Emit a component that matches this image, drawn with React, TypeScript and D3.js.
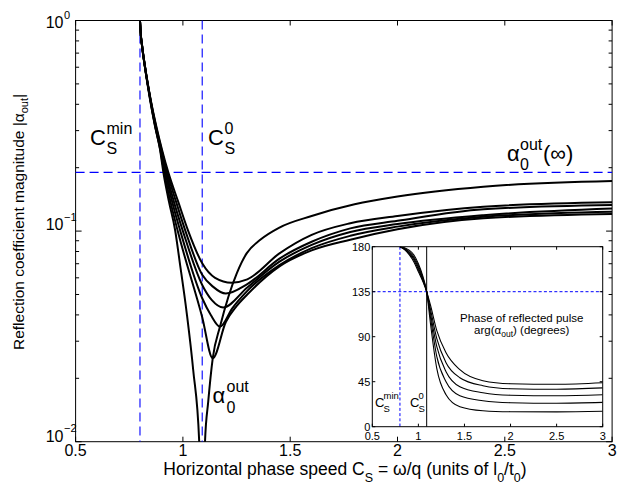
import React from "react";
import * as d3 from "d3";

// ---------- data ----------
const X_TICKS = [0.5, 1, 1.5, 2, 2.5, 3];
const X_TICK_LABELS = ["0.5", "1", "1.5", "2", "2.5", "3"];
const Y_TICKS = [1, 0.1, 0.01];
const Y_TICK_EXPONENTS = ["0", "\u22121", "\u22122"];
const INSET_Y_TICKS = [0, 45, 90, 135, 180];
const INSET_Y_TICK_LABELS = ["0", "45", "90", "135", "180"];

const CS_MIN = 0.8;
const CS_0 = 1.09;
const ALPHA_INF = 0.19;
const PHASE_REF = 135;

// |alpha_0^out| (zero-limit curve)
const alpha0: [number, number][] = [
  [0.8, 1.0], [0.803, 0.88], [0.81, 0.75], [0.823, 0.6], [0.847, 0.42], [0.87, 0.315],
  [0.893, 0.245], [0.909, 0.19], [0.935, 0.138], [0.964, 0.1007], [0.986, 0.0703],
  [1.018, 0.0407], [1.048, 0.0219], [1.076, 0.01], [1.09, 0.003], [1.103, 0.01],
  [1.118, 0.0155], [1.139, 0.0249], [1.173, 0.0352], [1.212, 0.0488], [1.251, 0.063],
  [1.297, 0.0784], [1.359, 0.0907], [1.45, 0.104], [1.6, 0.118], [1.8, 0.134],
  [2.0, 0.146], [2.4, 0.1625], [3.0, 0.173],
];
const curve1: [number, number][] = [
  [0.8, 1.0], [0.803, 0.88], [0.81, 0.76], [0.824, 0.6], [0.85, 0.42], [0.876, 0.315],
  [0.902, 0.245], [0.932, 0.19], [0.978, 0.138], [1.025, 0.1], [1.09, 0.0703],
  [1.15, 0.06], [1.227, 0.0569], [1.3, 0.059], [1.45, 0.0784], [1.6, 0.096],
  [1.78, 0.109], [2.0, 0.118], [2.4, 0.1306], [3.0, 0.137],
];
const curve2: [number, number][] = [
  [0.8, 1.0], [0.803, 0.88], [0.81, 0.758], [0.8238, 0.6], [0.8495, 0.42], [0.8745, 0.315],
  [0.9, 0.245], [0.927, 0.19], [0.968, 0.138], [1.012, 0.1], [1.09, 0.062],
  [1.14, 0.0545], [1.2, 0.0505], [1.3, 0.056], [1.45, 0.074], [1.6, 0.089],
  [1.78, 0.103], [2.0, 0.112], [2.4, 0.127], [3.0, 0.133],
];
const curve3: [number, number][] = [
  [0.8, 1.0], [0.803, 0.88], [0.81, 0.756], [0.8236, 0.6], [0.849, 0.42], [0.873, 0.315],
  [0.898, 0.245], [0.922, 0.19], [0.958, 0.138], [1.0, 0.1], [1.09, 0.0555],
  [1.135, 0.047], [1.188, 0.0434], [1.3, 0.054], [1.45, 0.0716], [1.6, 0.086],
  [1.78, 0.099], [2.0, 0.108], [2.4, 0.119], [3.0, 0.128],
];
const curve4: [number, number][] = [
  [0.8, 1.0], [0.803, 0.88], [0.81, 0.754], [0.8234, 0.6], [0.8485, 0.42], [0.8715, 0.315],
  [0.896, 0.245], [0.918, 0.19], [0.95, 0.138], [0.988, 0.1], [1.09, 0.048],
  [1.13, 0.04], [1.173, 0.0352], [1.23, 0.043], [1.3, 0.052], [1.45, 0.0689],
  [1.6, 0.083], [1.78, 0.095], [2.0, 0.105], [2.4, 0.117], [3.0, 0.1236],
];
const curve5: [number, number][] = [
  [0.8, 1.0], [0.803, 0.88], [0.81, 0.752], [0.8232, 0.6], [0.848, 0.42], [0.8705, 0.315],
  [0.894, 0.245], [0.913, 0.19], [0.942, 0.138], [0.976, 0.1], [1.09, 0.039],
  [1.139, 0.0249], [1.2, 0.037], [1.25, 0.044], [1.3, 0.05], [1.45, 0.068],
  [1.6, 0.081], [1.78, 0.091], [2.0, 0.102], [2.4, 0.115], [3.0, 0.1206],
];
const MAIN_CURVES = [alpha0, curve1, curve2, curve3, curve4, curve5];

// inset: phase (degrees)
const PHASE_X = [0.8, 0.85, 0.9, 0.95, 1.0, 1.05, 1.09, 1.13, 1.2, 1.3, 1.45, 1.7, 2.0, 2.5, 3.0];
const phase1 = [180, 177, 172, 165, 155, 145, 135, 122, 96, 74, 57, 46, 43, 42.5, 44];
const phase2 = [180, 177.5, 173, 167, 157, 146, 135, 118, 88, 64, 49, 41, 38, 37.5, 38.8];
const phase3 = [180, 178, 174, 168.5, 159, 147, 135, 114, 80, 55, 40, 34, 31.5, 31, 32];
const phase4 = [180, 178.5, 175, 170, 161, 148.5, 135, 110, 70, 45, 31, 26, 24, 23.5, 24.3];
const phase5 = [180, 179, 176.5, 172, 163, 150, 135, 104, 58, 32, 20, 16, 15, 14.8, 15.4];
const PHASES = [phase1, phase2, phase3, phase4, phase5];

// ---------- layout ----------
const W = 618, H = 487;
const M = { l: 75.6, t: 20.5, r: 612.1, b: 441.7 };
const I = { l: 372.3, t: 246.7, r: 602.7, b: 426.7 };
const FONT = "'Liberation Sans', Arial, Helvetica, sans-serif";
const BLUE = "#0000ff";

export default function App() {
  const mx = d3.scaleLinear().domain([0.5, 3]).range([M.l, M.r]);
  const my = d3.scaleLog().domain([0.01, 1]).range([M.b, M.t]);
  const ix = d3.scaleLinear().domain([0.5, 3]).range([I.l, I.r]);
  const iy = d3.scaleLinear().domain([0, 180]).range([I.b, I.t]);

  const mainLine = d3
    .line<[number, number]>()
    .x((d) => mx(d[0]))
    .y((d) => my(d[1]))
    .curve(d3.curveMonotoneX);
  const phaseLine = d3
    .line<[number, number]>()
    .x((d) => ix(d[0]))
    .y((d) => iy(d[1]))
    .curve(d3.curveMonotoneX);

  const minorY: number[] = [];
  [-2, -1].forEach((k) => {
    for (let m = 2; m <= 9; m++) minorY.push(m * Math.pow(10, k));
  });
  const yLabelBase = [7.5, -1, 0];

  return (
    <svg
      width={W}
      height={H}
      style={{ position: "absolute", left: 0, top: 0, background: "#fff" }}
      fontFamily={FONT}
    >
      <defs>
        <clipPath id="mainClip">
          <rect x={M.l} y={M.t} width={M.r - M.l} height={M.b - M.t} />
        </clipPath>
        <clipPath id="insetClip">
          <rect x={I.l} y={I.t} width={I.r - I.l} height={I.b - I.t} />
        </clipPath>
      </defs>
      <rect x={0} y={0} width={W} height={H} fill="#fff" />

      {/* main axes box */}
      <rect x={M.l} y={M.t} width={M.r - M.l} height={M.b - M.t} fill="#fff" stroke="#000" strokeWidth={1} />
      {X_TICKS.map((t) => (
        <g key={"xt" + t}>
          <line x1={mx(t)} x2={mx(t)} y1={M.b} y2={M.b - 5} stroke="#000" />
          <line x1={mx(t)} x2={mx(t)} y1={M.t} y2={M.t + 5} stroke="#000" />
        </g>
      ))}
      {Y_TICKS.map((t) => (
        <g key={"yt" + t}>
          <line x1={M.l} x2={M.l + 6} y1={my(t)} y2={my(t)} stroke="#000" />
          <line x1={M.r} x2={M.r - 6} y1={my(t)} y2={my(t)} stroke="#000" />
        </g>
      ))}
      {minorY.map((t) => (
        <g key={"ym" + t}>
          <line x1={M.l} x2={M.l + 3.5} y1={my(t)} y2={my(t)} stroke="#000" />
          <line x1={M.r} x2={M.r - 3.5} y1={my(t)} y2={my(t)} stroke="#000" />
        </g>
      ))}

      {/* dashed reference lines */}
      <g stroke={BLUE} strokeWidth={1.1} strokeDasharray="9,5" fill="none">
        <line x1={mx(CS_MIN)} x2={mx(CS_MIN)} y1={M.t} y2={M.b} />
        <line x1={mx(CS_0)} x2={mx(CS_0)} y1={M.t} y2={M.b} />
        <line x1={M.l} x2={M.r} y1={my(ALPHA_INF)} y2={my(ALPHA_INF)} />
      </g>

      {/* curves */}
      <g clipPath="url(#mainClip)" fill="none" stroke="#000" strokeWidth={2}>
        {MAIN_CURVES.map((c, i) => (
          <path key={"c" + i} d={mainLine(c) || ""} />
        ))}
      </g>

      {/* tick labels */}
      <g fontSize={16} fill="#000">
        {X_TICKS.map((t, i) => (
          <text key={"xl" + t} x={mx(t)} y={456} textAnchor="middle">
            {X_TICK_LABELS[i]}
          </text>
        ))}
        {Y_TICKS.map((t, i) => (
          <g key={"yl" + t}>
            <text x={63.5} y={my(t) + yLabelBase[i]} textAnchor="end">10</text>
            <text x={64} y={my(t) + yLabelBase[i] - 9.5} fontSize={11}>
              {Y_TICK_EXPONENTS[i]}
            </text>
          </g>
        ))}
      </g>

      {/* axis labels */}
      <text x={345} y={475} fontSize={17.5} textAnchor="middle">
        Horizontal phase speed C
        <tspan fontSize={12.5} dy={7}>S</tspan>
        <tspan dy={-7}> = ω/q (units of l</tspan>
        <tspan fontSize={12.5} dy={7}>0</tspan>
        <tspan dy={-7}>/t</tspan>
        <tspan fontSize={12.5} dy={7}>0</tspan>
        <tspan dy={-7}>)</tspan>
      </text>
      <text transform="translate(24,222) rotate(-90)" fontSize={15.5} textAnchor="middle">
        Reflection coefficient magnitude |α
        <tspan fontSize={11} dy={4}>out</tspan>
        <tspan dy={-4}>|</tspan>
      </text>

      {/* annotations */}
      <g fontSize={22} fill="#000">
        <text x={90} y={145}>C</text>
        <text x={106.5} y={134} fontSize={16}>min</text>
        <text x={106.5} y={154} fontSize={16}>S</text>

        <text x={208} y={145}>C</text>
        <text x={224.5} y={134} fontSize={16}>0</text>
        <text x={224.5} y={154} fontSize={16}>S</text>

        <text x={507} y={161}>α</text>
        <text x={520} y={150} fontSize={16}>out</text>
        <text x={520} y={170} fontSize={16}>0</text>
        <text x={543} y={161}>(∞)</text>

        <text x={212.5} y={403}>α</text>
        <text x={226.5} y={392} fontSize={16}>out</text>
        <text x={226.5} y={413} fontSize={16}>0</text>
      </g>

      {/* ---------- inset ---------- */}
      <rect x={I.l} y={I.t} width={I.r - I.l} height={I.b - I.t} fill="#fff" />
      <g stroke={BLUE} strokeWidth={1} strokeDasharray="3,2.2" fill="none">
        <line x1={ix(CS_MIN)} x2={ix(CS_MIN)} y1={I.t} y2={I.b} />
        <line x1={I.l} x2={I.r} y1={iy(PHASE_REF)} y2={iy(PHASE_REF)} />
      </g>
      <line x1={ix(CS_0)} x2={ix(CS_0)} y1={I.t} y2={I.b} stroke="#000" strokeWidth={1} />
      <g clipPath="url(#insetClip)" fill="none" stroke="#000" strokeWidth={1.1}>
        {PHASES.map((p, i) => (
          <path key={"p" + i} d={phaseLine(PHASE_X.map((x, j) => [x, p[j]] as [number, number])) || ""} />
        ))}
      </g>
      <rect x={I.l} y={I.t} width={I.r - I.l} height={I.b - I.t} fill="none" stroke="#000" strokeWidth={1} />
      {X_TICKS.map((t) => (
        <g key={"ixt" + t}>
          <line x1={ix(t)} x2={ix(t)} y1={I.b} y2={I.b - 3} stroke="#000" />
          <line x1={ix(t)} x2={ix(t)} y1={I.t} y2={I.t + 3} stroke="#000" />
        </g>
      ))}
      {INSET_Y_TICKS.map((t) => (
        <g key={"iyt" + t}>
          <line x1={I.l} x2={I.l + 3} y1={iy(t)} y2={iy(t)} stroke="#000" />
          <line x1={I.r} x2={I.r - 3} y1={iy(t)} y2={iy(t)} stroke="#000" />
        </g>
      ))}
      <g fontSize={11} fill="#000">
        {X_TICKS.map((t, i) => (
          <text key={"ixl" + t} x={ix(t)} y={440} textAnchor="middle">
            {X_TICK_LABELS[i]}
          </text>
        ))}
        {INSET_Y_TICKS.map((t, i) => (
          <text key={"iyl" + t} x={I.l - 2} y={iy(t) + 4} textAnchor="end">
            {INSET_Y_TICK_LABELS[i]}
          </text>
        ))}
      </g>
      <g fontSize={11.5} fill="#000" textAnchor="middle">
        <text x={521.7} y={322}>Phase of reflected pulse</text>
        <text x={521.7} y={334}>
          arg(α
          <tspan fontSize={8.5} dy={3}>out</tspan>
          <tspan dy={-3}>) (degrees)</tspan>
        </text>
      </g>
      <g fontSize={13} fill="#000">
        <text x={375} y={407}>C</text>
        <text x={383.5} y={399} fontSize={9.5}>min</text>
        <text x={383.5} y={412} fontSize={9.5}>S</text>
        <text x={410} y={407}>C</text>
        <text x={418.5} y={399} fontSize={9.5}>0</text>
        <text x={418.5} y={412} fontSize={9.5}>S</text>
      </g>
    </svg>
  );
}
